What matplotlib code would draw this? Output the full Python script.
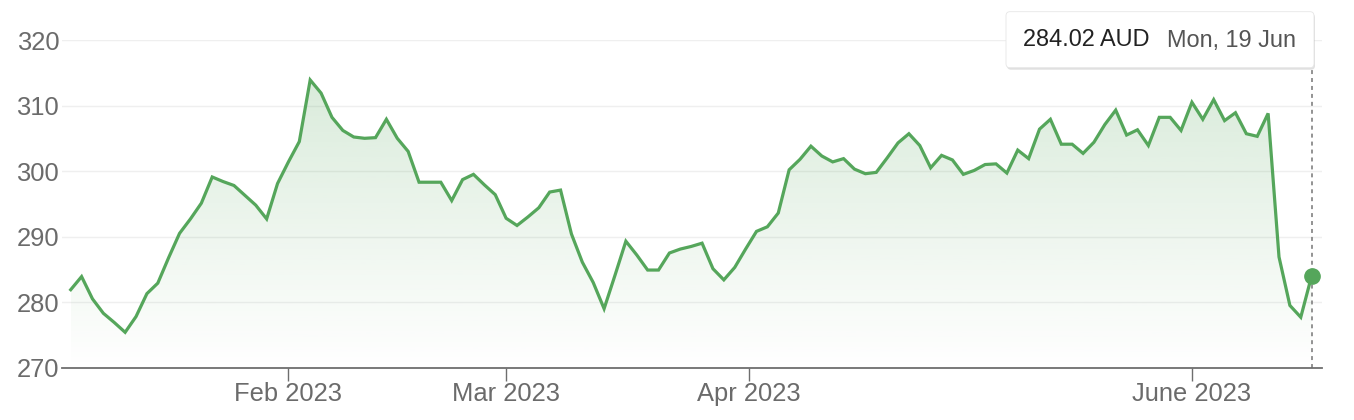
import numpy as np
import matplotlib
matplotlib.use("Agg")
import matplotlib.pyplot as plt
from matplotlib.patches import FancyBboxPatch
from matplotlib.transforms import IdentityTransform

# closing prices (AUD), one per trading day, 3 Jan .. 19 Jun 2023
prices = [
    281.9, 283.9, 280.5, 278.3, 276.9, 275.4, 277.8, 281.3, 282.9, 286.8,
    290.5, 292.7, 295.1, 299.1, 298.4, 297.8, 296.3, 294.8, 292.7, 298.1,
    301.4, 304.5, 313.9, 311.9, 308.2, 306.2, 305.2, 305.0, 305.1, 307.9,
    305.0, 303.0, 298.3, 298.3, 298.3, 295.5, 298.7, 299.5, 297.9, 296.4,
    292.8, 291.7, 293.0, 294.4, 296.8, 297.1, 290.4, 286.1, 283.0, 279.0,
    284.1, 289.3, 287.2, 284.9, 284.9, 287.5, 288.1, 288.5, 289.0, 285.1,
    283.4, 285.3, 288.1, 290.8, 291.5, 293.6, 300.2, 301.8, 303.8, 302.3,
    301.4, 301.9, 300.3, 299.6, 299.8, 302.0, 304.3, 305.7, 303.9, 300.5,
    302.4, 301.7, 299.5, 300.1, 301.0, 301.1, 299.7, 303.2, 301.9, 306.4,
    307.9, 304.1, 304.1, 302.7, 304.4, 307.1, 309.3, 305.5, 306.3, 303.9,
    308.2, 308.2, 306.2, 310.5, 307.9, 310.9, 307.7, 308.9, 305.7, 305.3,
    308.8, 286.9, 279.5, 277.7, 284.02,
]
# month ticks in trading-day units (Apr 1 falls on a weekend)
tick_pos = [20, 40, 62.33, 103]
tick_labels = ["Feb 2023", "Mar 2023", "Apr 2023", "June 2023"]
y_ticks = [270, 280, 290, 300, 310, 320]

tip_value = "284.02 AUD"
tip_date = "Mon, 19 Jun"

green = "#55a65b"
grey_text = "#6b6b6b"

plt.rcParams['font.family'] = ['Liberation Sans', 'DejaVu Sans']

W, H = 1354, 420
fig = plt.figure(figsize=(W / 100, H / 100), dpi=100)
ax = fig.add_axes([62 / W, 1 - 367.7 / H, (1322 - 62) / W, (367.7 - 40) / H])

x = np.arange(len(prices))
ax.set_xlim(-0.8, 114.95)
ax.set_ylim(270, 320)

# gradient fill under the line
fill = ax.fill_between(x, prices, 270, facecolor="none", edgecolor="none")
grad = np.linspace(0.25, 0.0, 256).reshape(-1, 1)
rgba = np.zeros((256, 1, 4))
rgba[..., :3] = matplotlib.colors.to_rgb(green)
rgba[..., 3] = grad
im = ax.imshow(rgba, extent=[x[0], x[-1], 270, 320], aspect="auto", origin="upper", zorder=1)
im.set_clip_path(fill.get_paths()[0], ax.transData)

ax.plot(x, prices, color=green, lw=2.3, zorder=3, solid_joinstyle="miter")
ax.plot(x[-1], prices[-1], "o", color=green, ms=11, zorder=4)

# grid / axes styling
ax.set_yticks(y_ticks)
ax.set_yticklabels([str(v) for v in y_ticks])
for v in y_ticks[1:]:
    ax.axhline(v, color="#efefef", lw=1.0, zorder=0)
for s in ["top", "right", "left"]:
    ax.spines[s].set_visible(False)
ax.spines["bottom"].set_color("#6e6e6e")
ax.spines["bottom"].set_linewidth(1.3)
ax.tick_params(axis="y", length=0, pad=2, labelsize=18.4, labelcolor=grey_text)
ax.set_xticks(tick_pos)
ax.set_xticklabels(tick_labels)
ax.tick_params(axis="x", length=9.5, width=1.0, color="#6e6e6e", pad=0.5,
               labelsize=18.4, labelcolor=grey_text)

# tooltip box
bx0, bx1, by_top, by_bot = 1006, 1314, 11.7, 67.7
shadow = FancyBboxPatch((bx0 + 1, H - by_bot - 2), bx1 - bx0, by_bot - by_top,
                        boxstyle="round,pad=0,rounding_size=4", transform=IdentityTransform(),
                        facecolor="#000000", alpha=0.12, edgecolor="none")
box = FancyBboxPatch((bx0, H - by_bot), bx1 - bx0, by_bot - by_top,
                     boxstyle="round,pad=0,rounding_size=4", transform=IdentityTransform(),
                     facecolor="white", edgecolor="#e6e6e6", lw=0.6)
fig.add_artist(shadow)
fig.add_artist(box)
fig.text(1022.7 / W, 1 - 40 / H, tip_value, fontsize=16.9, color="#222222", va="center", ha="left")
fig.text(1166.7 / W, 1 - 40 / H, tip_date, fontsize=16.9, color="#555555", va="center", ha="left")

# dotted crosshair from tooltip down to axis
y_top = ax.transData.inverted().transform((0, H - by_bot))[1]
ax.plot([x[-1], x[-1]], [270, y_top], color="#8a8a8a", lw=1.3, ls=(0, (2.2, 2.2)),
        zorder=2, clip_on=False)

fig.savefig("out.png", dpi=100)
